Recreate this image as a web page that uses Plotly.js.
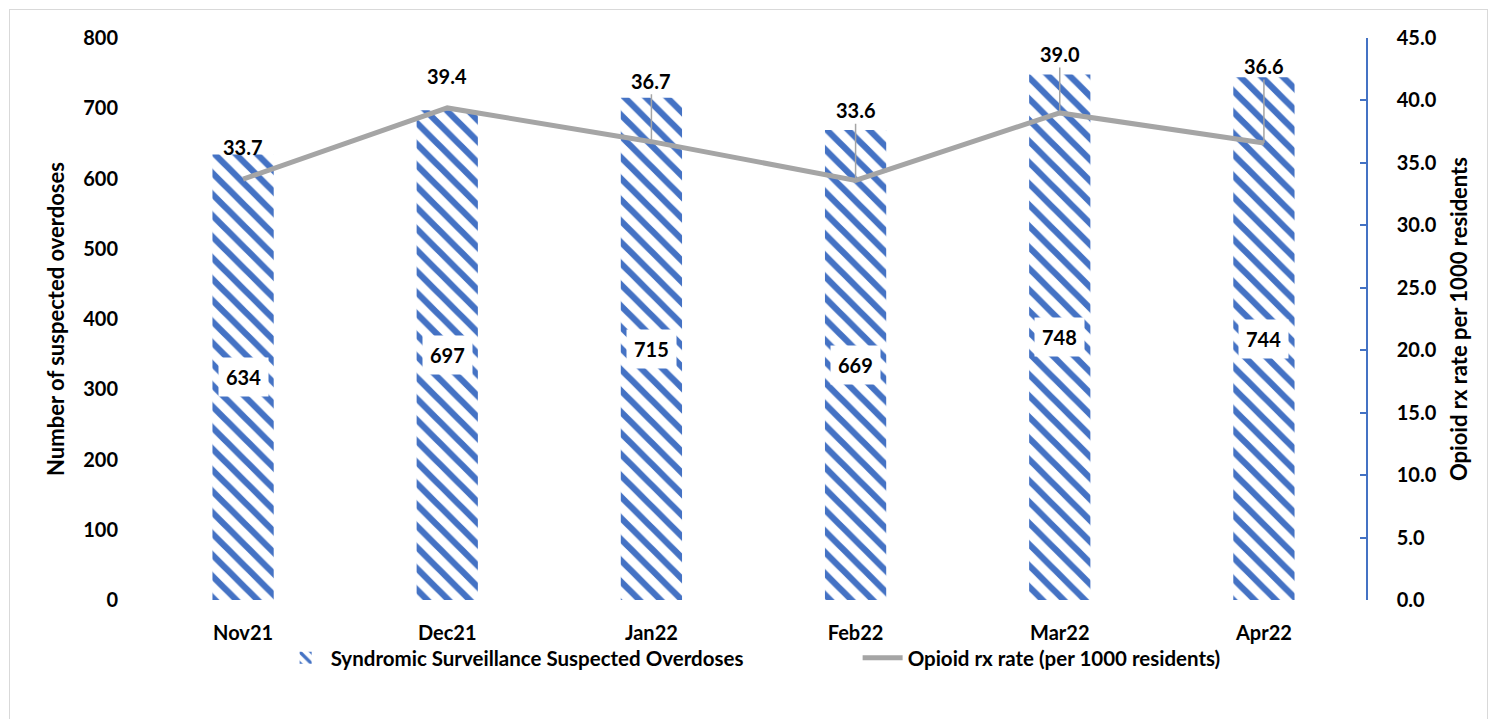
<!DOCTYPE html>
<html>
<head>
<meta charset="utf-8">
<script src="https://cdn.plot.ly/plotly-3.0.1.min.js"></script>
<style>
html,body{margin:0;padding:0;background:#fff;}
#frame{position:absolute;left:9px;top:9px;width:1479px;height:720px;border:1px solid #D9D9D9;box-sizing:border-box;}
#chart{position:absolute;left:0;top:0;width:1497px;height:719px;}
</style>
</head>
<body>
<div id="frame"></div>
<div id="chart"></div>
<script>
const months = ["Nov21","Dec21","Jan22","Feb22","Mar22","Apr22"];
const overdoses = [634, 697, 715, 669, 748, 744];
const rxRate = [33.7, 39.4, 36.7, 33.6, 39.0, 36.6];
const rxLabelOffsets = [-32, -32, -61, -70, -59, -77];
const leftTicks = [0,100,200,300,400,500,600,700,800];
const rightTicks = [0,5,10,15,20,25,30,35,40,45];

const FONT = "Lato, 'Open Sans', sans-serif";
const BLUE = "#4472C4";
const GRAY = "#A5A5A5";

const bars = {
  type: "bar",
  x: months,
  y: overdoses,
  name: "<b>Syndromic Surveillance Suspected Overdoses</b>",
  legend: "legend",
  marker: {
    color: "#ffffff",
    line: {width: 0},
    pattern: {shape: "\\", fgcolor: BLUE, bgcolor: "#ffffff", size: 15, solidity: 0.42}
  },
  hoverinfo: "x+y"
};
const line = {
  type: "scatter",
  mode: "lines",
  x: months,
  y: rxRate,
  yaxis: "y2",
  legend: "legend2",
  name: "<b>Opioid rx rate (per 1000 residents)</b>",
  line: {color: GRAY, width: 5}
};

const annotations = [];
months.forEach((m, i) => {
  annotations.push({
    x: m, y: overdoses[i] / 2, xref: "x", yref: "y",
    text: "<b>" + overdoses[i] + "</b>", showarrow: false,
    bgcolor: "#ffffff", borderpad: 7,
    font: {family: FONT, size: 20, color: "#000"}
  });
  const off = rxLabelOffsets[i];
  annotations.push({
    x: m, y: rxRate[i], xref: "x", yref: "y2",
    text: "<b>" + rxRate[i].toFixed(1) + "</b>",
    showarrow: Math.abs(off) > 40, arrowhead: 0, arrowwidth: 1.5, arrowcolor: GRAY,
    ax: 0, ay: off, standoff: 0,
    yshift: Math.abs(off) > 40 ? 0 : -off,
    font: {family: FONT, size: 20, color: "#000"}
  });
});

const legendFont = {family: FONT, size: 20.5, color: "#000"};
const layout = {
  width: 1497, height: 719,
  margin: {l: 141, r: 131, t: 38, b: 119},
  paper_bgcolor: "rgba(0,0,0,0)",
  plot_bgcolor: "rgba(0,0,0,0)",
  bargap: 0.7,
  showlegend: true,
  legend: {
    orientation: "h", x: 0.114, xanchor: "left", y: -0.103, yanchor: "middle",
    font: legendFont, itemwidth: 40, bgcolor: "rgba(0,0,0,0)"
  },
  legend2: {
    orientation: "h", x: 0.585, xanchor: "left", y: -0.103, yanchor: "middle",
    font: legendFont, itemwidth: 40, bgcolor: "rgba(0,0,0,0)"
  },
  xaxis: {
    type: "category", tickvals: months, ticktext: months.map(t => "<b>" + t + "</b>"),
    showline: false, showgrid: false, zeroline: false, ticks: "",
    tickfont: {family: FONT, size: 20, color: "#000"},
    ticklabelstandoff: 19
  },
  yaxis: {
    range: [0, 800], tickvals: leftTicks, ticktext: leftTicks.map(t => "<b>" + t + "</b>"),
    showline: false, showgrid: false, zeroline: false, ticks: "",
    tickfont: {family: FONT, size: 20, color: "#000"},
    ticklabelstandoff: 22,
    title: {text: "<b>Number of suspected overdoses</b>", font: {family: FONT, size: 22, color: "#000"}, standoff: 12}
  },
  yaxis2: {
    range: [0, 45], overlaying: "y", side: "right",
    tickvals: rightTicks, ticktext: rightTicks.map(t => "<b>" + t.toFixed(1) + "</b>"),
    showline: true, linecolor: BLUE, linewidth: 1.5,
    ticks: "inside", ticklen: 6, tickcolor: BLUE, tickwidth: 1.5,
    showgrid: false, zeroline: false,
    tickfont: {family: FONT, size: 20, color: "#000"},
    ticklabelstandoff: 25,
    title: {text: "<b>Opioid rx rate per 1000 residents</b>", font: {family: FONT, size: 22, color: "#000"}, standoff: 16}
  },
  annotations: annotations
};

Plotly.newPlot("chart", [bars, line], layout, {displayModeBar: false, responsive: false});
</script>
</body>
</html>
